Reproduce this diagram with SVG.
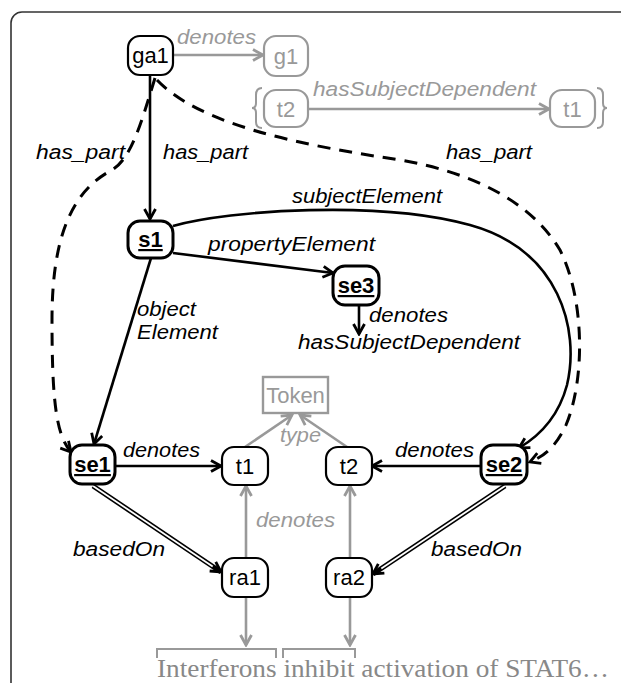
<svg xmlns="http://www.w3.org/2000/svg" width="621" height="683" viewBox="0 0 621 683">
<defs>
<style>
.nb{fill:#fff;stroke:#000;stroke-width:2.2}
.nk{fill:#fff;stroke:#000;stroke-width:3}
.ng{fill:#fff;stroke:#999;stroke-width:2.2}
.e{fill:none;stroke:#000;stroke-width:2.6}
.eg{fill:none;stroke:#999;stroke-width:2.6}
.ed{fill:none;stroke:#000;stroke-width:3;stroke-dasharray:13 9}
.lbl{font-family:"Liberation Sans",Arial,sans-serif;font-size:20px;font-style:italic;fill:#000}
.lg{font-family:"Liberation Sans",Arial,sans-serif;font-size:20px;font-style:italic;fill:#999}
.nt{font-family:"Liberation Sans",Arial,sans-serif;font-size:22px;fill:#000;text-anchor:middle}
.ntb{font-family:"Liberation Sans",Arial,sans-serif;font-size:22px;font-weight:bold;fill:#000;text-anchor:middle;text-decoration:underline}
.ntg{font-family:"Liberation Sans",Arial,sans-serif;font-size:22px;fill:#999;text-anchor:middle}
</style>
<marker id="ah" viewBox="0 0 14 14" refX="12" refY="7" markerWidth="14" markerHeight="14" markerUnits="userSpaceOnUse" orient="auto"><path d="M2,1.5 L12,7 L2,12.5" fill="none" stroke="#000" stroke-width="2.8"/></marker>
<marker id="ahg" viewBox="0 0 14 14" refX="12" refY="7" markerWidth="14" markerHeight="14" markerUnits="userSpaceOnUse" orient="auto"><path d="M2,1.5 L12,7 L2,12.5" fill="none" stroke="#999" stroke-width="2.8"/></marker>
</defs>
<rect x="0" y="0" width="621" height="683" fill="#fff"/>
<rect x="11" y="12" width="650" height="720" rx="11" fill="#fff" stroke="#333" stroke-width="1.6"/>

<g id="connectors">
  <line class="eg" x1="173" y1="55" x2="263" y2="55" marker-end="url(#ahg)"/>
  <line class="eg" x1="308" y1="109" x2="549" y2="109" marker-end="url(#ahg)"/>
  <line class="e" x1="150" y1="76" x2="150" y2="219" marker-end="url(#ah)"/>
  <path class="ed" d="M155,78 C 142,120 132,158 112,170 C 70,192 52,240 52,320 C 52,400 56,435 71,452" marker-end="url(#ah)"/>
  <path class="ed" d="M157,80 C 200,125 300,145 400,160 C 470,172 530,200 560,250 C 585,300 585,380 566,425 C 557,445 545,456 530,462" marker-end="url(#ah)"/>
  <path class="e" d="M173,226 C 230,210 380,200 470,225 C 560,250 580,330 567,385 C 559,415 541,435 519,448" marker-end="url(#ah)"/>
  <line class="e" x1="173" y1="253" x2="333" y2="273" marker-end="url(#ah)"/>
  <line class="e" x1="359" y1="305" x2="359" y2="334" marker-end="url(#ah)"/>
  <line class="e" x1="151" y1="258" x2="94" y2="444" marker-end="url(#ah)"/>
  <line class="e" x1="115" y1="466" x2="221" y2="466" marker-end="url(#ah)"/>
  <line class="e" x1="481" y1="466" x2="372" y2="466" marker-end="url(#ah)"/>
  <line x1="93" y1="486" x2="221" y2="572" stroke="#000" stroke-width="5" marker-end="url(#ah)"/>
  <line x1="93" y1="486" x2="212.7" y2="566.4" stroke="#fff" stroke-width="1.8"/>
  <line x1="505" y1="486" x2="373" y2="574" stroke="#000" stroke-width="5" marker-end="url(#ah)"/>
  <line x1="505" y1="486" x2="381.3" y2="568.5" stroke="#fff" stroke-width="1.8"/>
  <line class="eg" x1="246" y1="558" x2="246" y2="486" marker-end="url(#ahg)"/>
  <line class="eg" x1="350" y1="558" x2="350" y2="486" marker-end="url(#ahg)"/>
  <line class="eg" x1="246" y1="597" x2="246" y2="645" marker-end="url(#ahg)"/>
  <line class="eg" x1="350" y1="597" x2="350" y2="645" marker-end="url(#ahg)"/>
  <line class="eg" x1="245" y1="447" x2="292" y2="415" marker-end="url(#ahg)"/>
  <line class="eg" x1="347" y1="447" x2="300" y2="415" marker-end="url(#ahg)"/>
  <path d="M157,658 L157,649 L276,649 L276,658 M283,658 L283,649 L355,649 L355,658" fill="none" stroke="#999" stroke-width="2"/>
  <path d="M262,88 Q256,88 256,95 L256,103 Q256,108 252,108 Q256,108 256,113 L256,122 Q256,128 262,128" fill="none" stroke="#999" stroke-width="2"/>
  <path d="M597,88 Q603,88 603,95 L603,103 Q603,108 607,108 Q603,108 603,113 L603,122 Q603,128 597,128" fill="none" stroke="#999" stroke-width="2"/>
</g>

<g id="edge-labels">
  <text class="lg" x="177" y="44" textLength="79" lengthAdjust="spacingAndGlyphs">denotes</text>
  <text class="lg" x="313" y="96" textLength="223" lengthAdjust="spacingAndGlyphs">hasSubjectDependent</text>
  <text class="lbl" x="36" y="159" textLength="89" lengthAdjust="spacingAndGlyphs">has_part</text>
  <text class="lbl" x="163" y="159" textLength="85" lengthAdjust="spacingAndGlyphs">has_part</text>
  <text class="lbl" x="446" y="159" textLength="86" lengthAdjust="spacingAndGlyphs">has_part</text>
  <text class="lbl" x="292" y="203" textLength="150" lengthAdjust="spacingAndGlyphs">subjectElement</text>
  <text class="lbl" x="208" y="251" textLength="167" lengthAdjust="spacingAndGlyphs">propertyElement</text>
  <text class="lbl" x="137" y="316" textLength="59" lengthAdjust="spacingAndGlyphs">object</text>
  <text class="lbl" x="137" y="339" textLength="81" lengthAdjust="spacingAndGlyphs">Element</text>
  <text class="lbl" x="369" y="322" textLength="79" lengthAdjust="spacingAndGlyphs">denotes</text>
  <text class="lbl" x="298" y="349" textLength="222" lengthAdjust="spacingAndGlyphs">hasSubjectDependent</text>
  <text class="lg" x="280" y="442" textLength="41" lengthAdjust="spacingAndGlyphs">type</text>
  <text class="lbl" x="123" y="457" textLength="77" lengthAdjust="spacingAndGlyphs">denotes</text>
  <text class="lbl" x="395" y="457" textLength="79" lengthAdjust="spacingAndGlyphs">denotes</text>
  <text class="lg" x="256" y="527" textLength="79" lengthAdjust="spacingAndGlyphs">denotes</text>
  <text class="lbl" x="73" y="556" textLength="92" lengthAdjust="spacingAndGlyphs">basedOn</text>
  <text class="lbl" x="431" y="556" textLength="91" lengthAdjust="spacingAndGlyphs">basedOn</text>
</g>

<g id="node-ga1"><rect class="nb" x="128" y="36" width="45" height="39" rx="12"/><text class="nt" x="150.5" y="63">ga1</text></g>
<g id="node-g1"><rect class="ng" x="264" y="36" width="44" height="40" rx="12"/><text class="ntg" x="286" y="64">g1</text></g>
<g id="node-t2-top"><rect class="ng" x="264" y="90" width="44" height="37" rx="12"/><text class="ntg" x="286" y="117">t2</text></g>
<g id="node-t1-top"><rect class="ng" x="550" y="90" width="45" height="37" rx="12"/><text class="ntg" x="572.5" y="117">t1</text></g>
<g id="node-s1"><rect class="nk" x="128" y="221" width="45" height="37" rx="12"/><text class="ntb" x="150.5" y="247">s1</text></g>
<g id="node-se3"><rect class="nk" x="333" y="266" width="46" height="39" rx="12"/><text class="ntb" x="356" y="293">se3</text></g>
<g id="node-Token"><rect x="263" y="377" width="65" height="36" fill="#fff" stroke="#999" stroke-width="2.4"/><text class="ntg" x="295.5" y="403" font-size="21">Token</text></g>
<g id="node-se1"><rect class="nk" x="70" y="445" width="45" height="39" rx="12"/><text class="ntb" x="92.5" y="472">se1</text></g>
<g id="node-t1"><rect class="nb" x="222" y="447" width="46" height="38" rx="12"/><text class="nt" x="245" y="474">t1</text></g>
<g id="node-t2"><rect class="nb" x="326" y="447" width="46" height="38" rx="12"/><text class="nt" x="349" y="474">t2</text></g>
<g id="node-se2"><rect class="nk" x="481" y="445" width="46" height="39" rx="12"/><text class="ntb" x="504" y="472">se2</text></g>
<g id="node-ra1"><rect class="nb" x="222" y="558" width="46" height="39" rx="12"/><text class="nt" x="245" y="585">ra1</text></g>
<g id="node-ra2"><rect class="nb" x="326" y="558" width="46" height="39" rx="12"/><text class="nt" x="349" y="585">ra2</text></g>

<g id="sentence"><text x="157" y="677" font-family="'Liberation Serif','Times New Roman',serif" font-size="25" fill="#888" textLength="452" lengthAdjust="spacingAndGlyphs">Interferons inhibit activation of STAT6…</text></g>
</svg>
